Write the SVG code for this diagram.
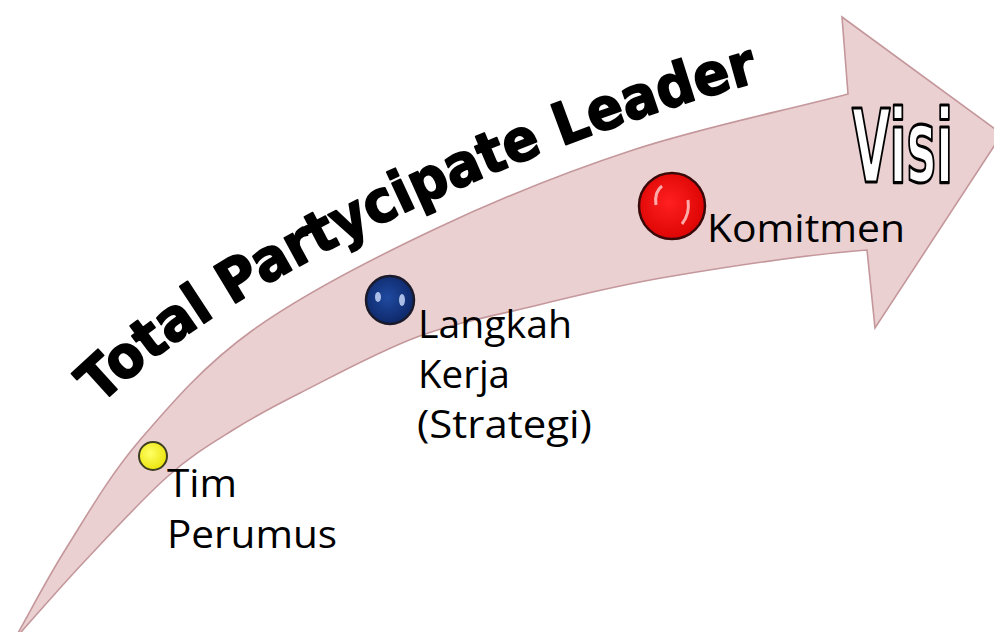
<svg xmlns="http://www.w3.org/2000/svg" width="994" height="632" viewBox="0 0 994 632">
<defs>
<style>
.lbl{font-family:"Open Sans","Liberation Sans",sans-serif;font-size:39px;fill:#000}
.ttl{font-family:"DejaVu Sans","Liberation Sans",sans-serif;font-weight:bold;font-size:58px;fill:#000;stroke:#000;stroke-width:1.8;stroke-linejoin:round}
.visi{font-family:"DejaVu Sans Condensed","DejaVu Sans","Liberation Sans",sans-serif;font-weight:bold;font-size:101px;fill:#fff;stroke:#000;stroke-width:3.2;stroke-linejoin:round}
</style>
<radialGradient id="gy" cx="0.4" cy="0.4" r="0.7"><stop offset="0" stop-color="#ffff66"/><stop offset="1" stop-color="#e8e000"/></radialGradient>
<radialGradient id="gb" cx="0.45" cy="0.45" r="0.65"><stop offset="0" stop-color="#1f4aa0"/><stop offset="1" stop-color="#0b2260"/></radialGradient>
<radialGradient id="gr" cx="0.45" cy="0.45" r="0.65"><stop offset="0" stop-color="#ff2020"/><stop offset="1" stop-color="#d80000"/></radialGradient>
<path id="tp" d="M100 405 C240 270 540 140 765 80"/>
</defs>
<rect width="994" height="632" fill="#fff"/>
<g id="arrow">
<path d="M14 640 C31.7 609 46 580.3 67 547 C88 513.7 109 476.2 140 440 C171 403.8 204.2 365 253 330 C301.8 295 369.7 260 433 230 C496.3 200 563.8 172.7 633 150 C702.2 127.3 776.3 112.7 848 94 L842 17 L1002 134 L875 328 L867 250 C800.3 255 723.2 267.5 667 277 C610.8 286.5 571.7 297 530 307 C488.3 317 455.3 322.7 417 337 C378.7 351.3 330.7 377.5 300 393 C269.3 408.5 255.2 416 233 430 C210.8 444 192 454.8 167 477 C142 499.2 108.5 535.8 83 563 C57.5 590.2 37 614.3 14 640 Z" fill="#ebd0d2" stroke="#c4979b" stroke-width="1.6" stroke-linejoin="miter"/>
</g>
<g id="title">
<text class="ttl"><textPath href="#tp" textLength="740" lengthAdjust="spacingAndGlyphs">Total Partycipate Leader</textPath></text>
</g>
<g id="visi">
<text class="visi" x="852" y="182" textLength="101" lengthAdjust="spacingAndGlyphs">Visi</text>
</g>
<g id="node-tim">
<circle cx="153" cy="456" r="14" fill="url(#gy)" stroke="#3e3e22" stroke-width="2"/>
<text class="lbl" x="167" y="497" textLength="70" lengthAdjust="spacingAndGlyphs">Tim</text>
<text class="lbl" x="167" y="548" textLength="170" lengthAdjust="spacingAndGlyphs">Perumus</text>
</g>
<g id="node-langkah">
<circle cx="390" cy="300" r="24" fill="url(#gb)" stroke="#1a1a2a" stroke-width="2.5"/>
<ellipse cx="378" cy="297" rx="3" ry="5" fill="#cfe0ff" opacity="0.8"/>
<ellipse cx="402" cy="300" rx="3" ry="6" fill="#cfe0ff" opacity="0.8"/>
<text class="lbl" x="418" y="338" textLength="154" lengthAdjust="spacingAndGlyphs">Langkah</text>
<text class="lbl" x="418" y="388" textLength="92" lengthAdjust="spacingAndGlyphs">Kerja</text>
<text class="lbl" x="417" y="438" textLength="175" lengthAdjust="spacingAndGlyphs">(Strategi)</text>
</g>
<g id="node-komitmen">
<circle cx="672" cy="206" r="33" fill="url(#gr)" stroke="#3a0a0a" stroke-width="2.5"/>
<path d="M656 205 Q654 192 662 186" stroke="#ffd0d0" stroke-width="3" fill="none" opacity="0.8"/>
<path d="M688 200 Q690 214 682 224" stroke="#ffd0d0" stroke-width="3" fill="none" opacity="0.8"/>
<text class="lbl" x="707" y="242" textLength="198" lengthAdjust="spacingAndGlyphs">Komitmen</text>
</g>
</svg>
